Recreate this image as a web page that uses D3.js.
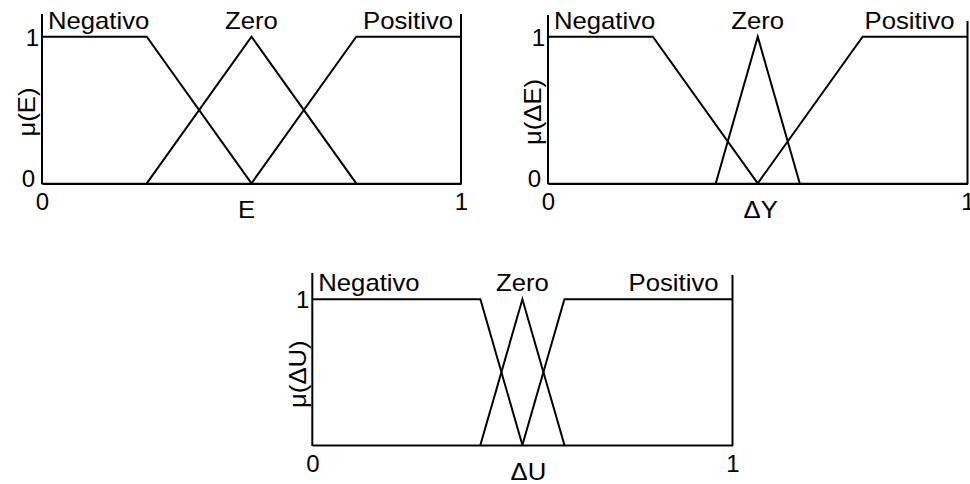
<!DOCTYPE html>
<html>
<head>
<meta charset="utf-8">
<script src="https://cdn.jsdelivr.net/npm/d3@7"></script>
<style>
  html, body { margin: 0; padding: 0; background: #fff; }
  svg text { font-family: Arial, "Liberation Sans", sans-serif; fill: #000; }
</style>
</head>
<body>
<svg id="chart" width="970" height="484"></svg>
<script>
// Membership function labels
const setLabels = ["Negativo", "Zero", "Positivo"];

// Error E: breakpoints [x, membership]
const eNegativo = [[0, 1], [0.25, 1], [0.5, 0]];
const eZero     = [[0.25, 0], [0.5, 1], [0.75, 0]];
const ePositivo = [[0.5, 0], [0.75, 1], [1, 1]];

// Change of output ΔY
const dyNegativo = [[0, 1], [0.25, 1], [0.5, 0]];
const dyZero     = [[0.4, 0], [0.5, 1], [0.6, 0]];
const dyPositivo = [[0.5, 0], [0.75, 1], [1, 1]];

// Control increment ΔU
const duNegativo = [[0, 1], [0.4, 1], [0.5, 0]];
const duZero     = [[0.4, 0], [0.5, 1], [0.6, 0]];
const duPositivo = [[0.5, 0], [0.6, 1], [1, 1]];

// Tick labels
const xTickValues = [0, 1];
const yTickValuesTop = [0, 1];
const yTickValuesBottom = [1];

const xTitles = ["E", "ΔY", "ΔU"];
const yTitles = ["μ(E)", "μ(ΔE)", "μ(ΔU)"];

const panels = [
  { sets: [eNegativo, eZero, ePositivo], xTitle: xTitles[0], yTitle: yTitles[0], yTicks: yTickValuesTop,
    x0: 42, x1: 461, yTop: 36.7, yBot: 183.3, frameTop: 14, frameTopR: 14, posPad: 8, titleShift: -5 },
  { sets: [dyNegativo, dyZero, dyPositivo], xTitle: xTitles[1], yTitle: yTitles[1], yTicks: yTickValuesTop,
    x0: 548, x1: 967.5, yTop: 36.7, yBot: 183.3, frameTop: 15, frameTopR: 21, posPad: 13, titleShift: 3 },
  { sets: [duNegativo, duZero, duPositivo], xTitle: xTitles[2], yTitle: yTitles[2], yTicks: yTickValuesBottom,
    x0: 312.3, x1: 732.5, yTop: 299.3, yBot: 445, frameTop: 273, frameTopR: 275, posPad: 14, titleShift: 6 }
];

const svg = d3.select("#chart");
const FS = 24;
const stretch = 1.07;

panels.forEach(p => {
  const x = d3.scaleLinear().domain([0, 1]).range([p.x0, p.x1]);
  const y = d3.scaleLinear().domain([0, 1]).range([p.yBot, p.yTop]);
  const g = svg.append("g");

  // Membership functions
  const line = d3.line().x(d => x(d[0])).y(d => y(d[1]));
  g.selectAll("path.mf").data(p.sets).join("path")
    .attr("class", "mf")
    .attr("d", line)
    .attr("fill", "none")
    .attr("stroke", "#000")
    .attr("stroke-width", 2)
    .attr("stroke-linejoin", "miter");

  // Bottom axis
  const xAxis = d3.axisBottom(x).tickValues(xTickValues).tickSize(0).tickPadding(9)
    .tickFormat(d3.format("d"));
  const ax = g.append("g").attr("transform", `translate(0,${p.yBot})`).call(xAxis);
  ax.select(".domain").attr("stroke", "#000").attr("stroke-width", 2.2);
  ax.selectAll(".tick text")
    .attr("font-size", 24)
    .attr("font-family", "Arial, 'Liberation Sans', sans-serif")
    .attr("dy", "0.75em");

  // Left axis ticks (no domain; frame drawn below)
  const yAxis = d3.axisLeft(y).tickValues(p.yTicks).tickSize(0).tickPadding(3)
    .tickFormat(d3.format("d"));
  const ay = g.append("g").attr("transform", `translate(${p.x0},0)`).call(yAxis);
  ay.select(".domain").remove();
  ay.selectAll(".tick text")
    .attr("font-size", 24)
    .attr("font-family", "Arial, 'Liberation Sans', sans-serif")
    .attr("dy", d => d === 0 ? "0.15em" : "0.36em")
    .attr("dx", d => d === 0 ? "-4" : "0");

  // Left and right frame lines
  g.append("line").attr("x1", p.x0).attr("x2", p.x0).attr("y1", p.frameTop).attr("y2", p.yBot + 1)
    .attr("stroke", "#000").attr("stroke-width", 2);
  g.append("line").attr("x1", p.x1).attr("x2", p.x1).attr("y1", p.frameTopR).attr("y2", p.yBot + 1)
    .attr("stroke", "#000").attr("stroke-width", 2);

  // Set labels
  const labelY = p.yTop - 8;
  const labelX = [p.x0 + 6, x(p.sets[1][1][0]), p.x1 - p.posPad];
  const anchors = ["start", "middle", "end"];
  setLabels.forEach((t, i) => {
    g.append("text")
      .attr("transform", `translate(${labelX[i]},${labelY}) scale(${stretch},1)`)
      .attr("text-anchor", anchors[i])
      .attr("font-size", FS)
      .text(t);
  });

  // Axis titles
  g.append("text")
    .attr("transform", `translate(${(p.x0 + p.x1) / 2 + p.titleShift},${p.yBot + 35}) scale(${stretch},1)`)
    .attr("text-anchor", "middle")
    .attr("font-size", FS)
    .text(p.xTitle);

  g.append("text")
    .attr("transform", `translate(${p.x0 - 15},${(p.yTop + p.yBot) / 2 + 2}) rotate(-90) scale(${stretch},1)`)
    .attr("text-anchor", "middle")
    .attr("dy", "0.35em")
    .attr("font-size", FS)
    .text(p.yTitle);
});
</script>
</body>
</html>
